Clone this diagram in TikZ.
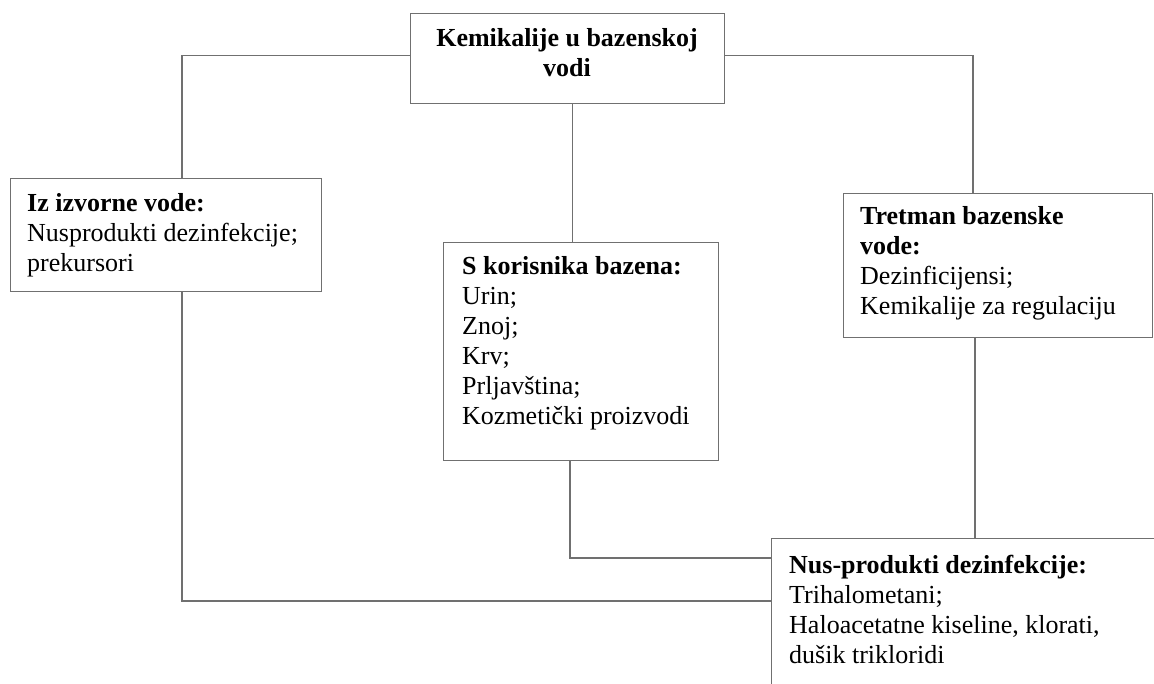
\documentclass[tikz,border=0pt]{standalone}
\usepackage{fontspec}
\setmainfont{Liberation Serif}
\newcommand\stackl[1]{\begin{tabular}[t]{@{}l@{}}#1\end{tabular}}
\newcommand\stackc[1]{\begin{tabular}[t]{@{}c@{}}#1\end{tabular}}
\tikzset{
  boxn/.style={draw=linegray, line width=1.3pt, fill=white, rectangle, inner sep=0pt, anchor=north west},
  txt/.style={inner sep=0pt, anchor=base west, text=black, font=\fontsize{26}{30}\selectfont},
  conn/.style={draw=linegray, line width=1.3pt},
}
\definecolor{linegray}{HTML}{707070}
\begin{document}
\begin{tikzpicture}[x=1pt,y=-1pt]
\clip (0,0) rectangle (1154,684);
\fill[white] (0,0) rectangle (1154,684);
% boxes
\node[boxn, minimum width=314pt, minimum height=90pt] (top) at (410,13) {};
\node[boxn, minimum width=311pt, minimum height=113pt] (src) at (10,178) {};
\node[boxn, minimum width=275pt, minimum height=218pt] (mid) at (443,242) {};
\node[boxn, minimum width=309pt, minimum height=144pt] (trt) at (843,193) {};
\node[boxn, minimum width=500pt, minimum height=300pt] (nus) at (771,538) {};
% texts
\node[txt, anchor=base] (ttop) at (567,47) {\stackc{\textbf{Kemikalije u bazenskoj}\\\textbf{vodi}}};
\node[txt] (tsrc) at (27,212) {\stackl{\textbf{Iz izvorne vode:}\\Nusprodukti dezinfekcije;\\prekursori}};
\node[txt] (tmid) at (462,275) {\stackl{\textbf{S korisnika bazena:}\\Urin;\\Znoj;\\Krv;\\Prljavština;\\Kozmetički proizvodi}};
\node[txt] (ttrt) at (860,225) {\stackl{\textbf{Tretman bazenske}\\\textbf{vode:}\\Dezinficijensi;\\Kemikalije za regulaciju}};
\node[txt] (tnus) at (789,573) {\stackl{\textbf{Nus-produkti dezinfekcije:}\\Trihalometani;\\Haloacetatne kiseline, klorati,\\dušik trikloridi}};
% connectors
\draw[conn] ([yshift=3pt]top.west) -| ([xshift=172pt]src.north west);
\draw[conn] ([yshift=3pt]top.east) -| ([xshift=130pt]trt.north west);
\draw[conn] ([xshift=5pt]top.south) -- ([xshift=5pt]top.south |- mid.north);
\draw[conn] ([xshift=127pt]mid.south west) |- ([yshift=-20pt]nus.north west);
\draw[conn] ([xshift=172pt]src.south west) |- ([yshift=-63pt]nus.north west);
\draw[conn] ([xshift=132pt]trt.south west) -- ([xshift=132pt]trt.south west |- nus.north);
\end{tikzpicture}
\end{document}
